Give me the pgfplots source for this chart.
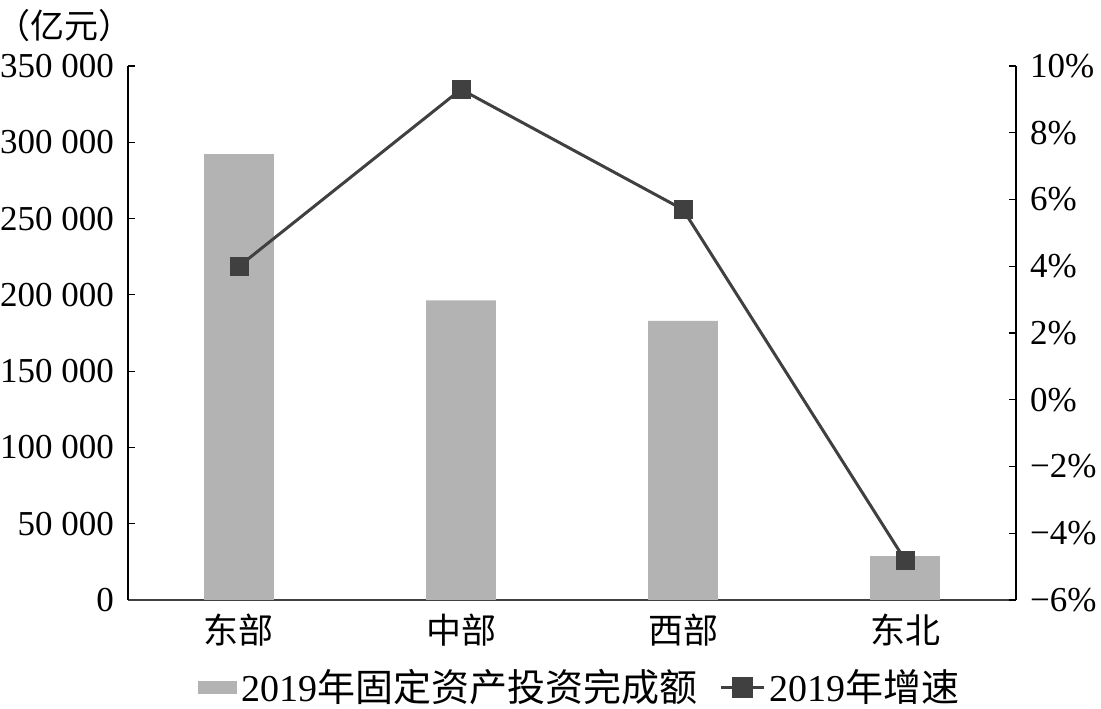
\documentclass[border=0pt]{standalone}
\usepackage{pgfplots}
\pgfplotsset{compat=1.18}
\usetikzlibrary{calc}
\usepackage{fontspec}
\setmainfont{Liberation Serif}
\newfontfamily\cjk{Noto Sans CJK SC}
\definecolor{bargray}{HTML}{B3B3B3}
\definecolor{linegray}{HTML}{404040}
\begin{document}
\begin{tikzpicture}[font=\fontsize{17.5}{20}\selectfont]
\begin{axis}[
  name=ax,
  scale only axis, width=444pt, height=267pt,
  xmin=-0.5, xmax=3.5, ymin=0, ymax=350000,
  scaled y ticks=false,
  axis x line*=bottom, axis y line*=left,
  x axis line style={draw=linegray, line width=1pt, -},
  y axis line style={draw=black, line width=0.8pt, -},
  xtick={0,1,2,3},
  xticklabels={{\cjk 东部},{\cjk 中部},{\cjk 西部},{\cjk 东北}},
  x tick style={draw=none},
  ytick={0,50000,100000,150000,200000,250000,300000,350000},
  yticklabels={0,50 000,100 000,150 000,200 000,250 000,300 000,350 000},
  yticklabel style={xshift=-3.5pt},
  y tick style={black, line width=0.6pt},
  tick align=inside, major tick length=3.5pt,
  ybar, bar width=0.315,
  clip=false,
  ticklabel style={font=\fontsize{17.5}{20}\selectfont},
]
\addplot[fill=bargray, draw=none] coordinates {(0,292300) (1,196400) (2,182900) (3,28800)};
\node[anchor=center, inner sep=0pt, font=\cjk\fontsize{17}{20}\selectfont] at (rel axis cs:-0.071,1.075) {（亿元）};
\end{axis}
\begin{axis}[
  scale only axis, width=444pt, height=267pt,
  xmin=-0.5, xmax=3.5, ymin=-6, ymax=10,
  axis y line*=right, axis x line=none,
  y axis line style={draw=black, line width=0.8pt, -},
  ytick={-6,-4,-2,0,2,4,6,8,10},
  yticklabels={−6\%,−4\%,−2\%,0\%,2\%,4\%,6\%,8\%,10\%},
  yticklabel style={xshift=3.5pt},
  y tick style={black, line width=0.6pt},
  tick align=inside, major tick length=3.5pt,
  clip=false,
  ticklabel style={font=\fontsize{17.5}{20}\selectfont},
  legend columns=2,
  legend style={draw=none, fill=none, at={(0.51,-0.163)}, anchor=center,
    font=\fontsize{19}{21}\selectfont, inner ysep=0pt,
    nodes={inner ysep=0pt},
    /tikz/every even column/.append style={column sep=9pt}},
]
\addlegendimage{legend image code/.code={\fill[bargray] (0pt,-3pt) rectangle (19pt,3pt);}}
\addlegendentry{2019{\cjk 年固定资产投资完成额}}
\addplot[linegray, line width=1.5pt, mark=square*, mark size=4.5pt,
  mark options={fill=linegray, draw=linegray, line width=0.3pt},
  legend image code/.code={\draw[linegray, line width=1.5pt] (0pt,0pt) -- (21.5pt,0pt);
    \fill[linegray] (6.25pt,-4.5pt) rectangle (15.25pt,4.5pt);}]
  coordinates {(0,4.0) (1,9.3) (2,5.7) (3,-4.8)};
\addlegendentry{2019{\cjk 年增速}}
\end{axis}
\pgfresetboundingbox
\path[use as bounding box] ($(ax.south west)+(-64pt,-54.5pt)$) rectangle ($(ax.north east)+(42.5pt,33pt)$);
\end{tikzpicture}
\end{document}
